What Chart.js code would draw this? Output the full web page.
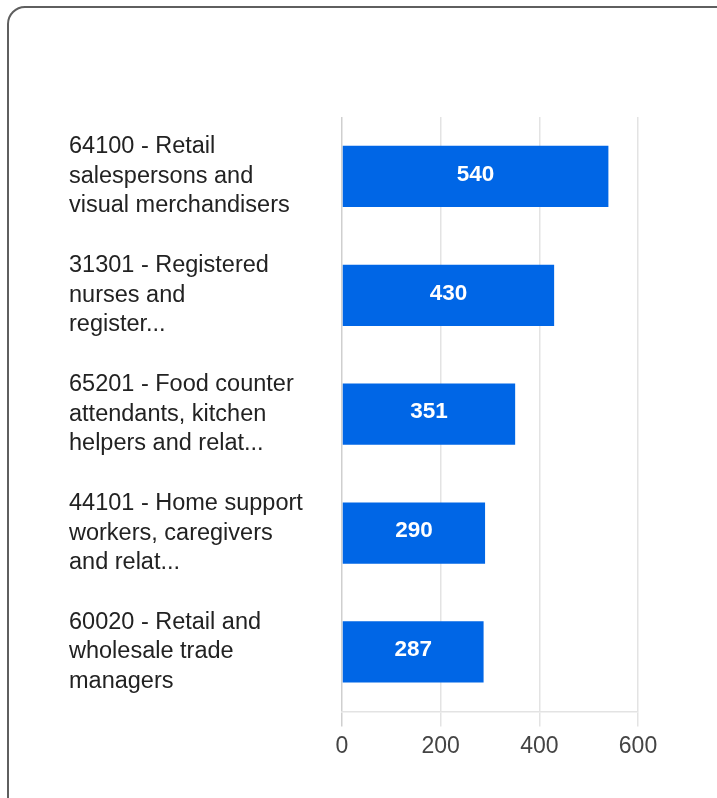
<!DOCTYPE html>
<html>
<head>
<meta charset="utf-8">
<script src="https://cdn.jsdelivr.net/npm/chart.js@4.4.0/dist/chart.umd.min.js"></script>
<style>
  html, body { margin: 0; padding: 0; background: #fff; overflow: hidden; }
  #card { position: absolute; left: 7px; top: 6px; width: 740px; height: 820px;
          border: 2px solid #5f5f5f; border-radius: 18px; box-sizing: border-box; }
  #wrap { position: absolute; left: 0; top: 0; width: 717px; height: 798px; }
</style>
</head>
<body>
<div id="card"></div>
<div id="wrap"><canvas id="c" width="717" height="798"></canvas></div>
<script>
const categories = [
  ["64100 - Retail", "salespersons and", "visual merchandisers"],
  ["31301 - Registered", "nurses and", "register..."],
  ["65201 - Food counter", "attendants, kitchen", "helpers and relat..."],
  ["44101 - Home support", "workers, caregivers", "and relat..."],
  ["60020 - Retail and", "wholesale trade", "managers"]
];
const values = [540, 430, 351, 290, 287];
const xTicks = [0, 200, 400, 600];

const FONT = "'Liberation Sans', Arial, Helvetica, sans-serif";

const valueLabels = {
  id: 'valueLabels',
  afterDatasetsDraw(chart) {
    const ctx = chart.ctx;
    const meta = chart.getDatasetMeta(0);
    ctx.save();
    ctx.fillStyle = '#ffffff';
    ctx.font = 'bold 22.5px ' + FONT;
    ctx.textAlign = 'center';
    ctx.textBaseline = 'middle';
    meta.data.forEach((bar, i) => {
      const cx = (bar.x + bar.base) / 2;
      ctx.fillText(String(chart.data.datasets[0].data[i]), cx, bar.y - 2);
    });
    ctx.restore();
  }
};

new Chart(document.getElementById('c'), {
  type: 'bar',
  data: {
    labels: categories,
    datasets: [{
      data: values,
      backgroundColor: '#0066e6',
      borderWidth: 0,
      barPercentage: 0.515,
      categoryPercentage: 1.0
    }]
  },
  options: {
    indexAxis: 'y',
    responsive: false,
    animation: false,
    devicePixelRatio: 1,
    layout: { padding: { left: 69, top: 117, right: 79, bottom: 32 } },
    plugins: { legend: { display: false }, tooltip: { enabled: false } },
    scales: {
      x: {
        min: 0, max: 600,
        afterBuildTicks(scale) { scale.ticks = xTicks.map(v => ({ value: v })); },
        grid: {
          color: (c) => (c.tick && c.tick.value === 0) ? '#cfcfcf' : '#e3e3e3',
          lineWidth: 1.5,
          tickLength: 15,
          drawTicks: true
        },
        border: { display: true, color: '#e3e3e3', width: 1.5 },
        ticks: {
          color: '#444444',
          font: { family: FONT, size: 23 },
          padding: 6,
          maxRotation: 0
        }
      },
      y: {
        afterFit(scale) { scale.width = 273; },
        grid: { display: false },
        border: { display: false },
        ticks: {
          color: '#222222',
          crossAlign: 'far',
          font: { family: FONT, size: 23.5, lineHeight: 1.255 },
          padding: 10
        }
      }
    }
  },
  plugins: [valueLabels]
});
</script>
</body>
</html>
